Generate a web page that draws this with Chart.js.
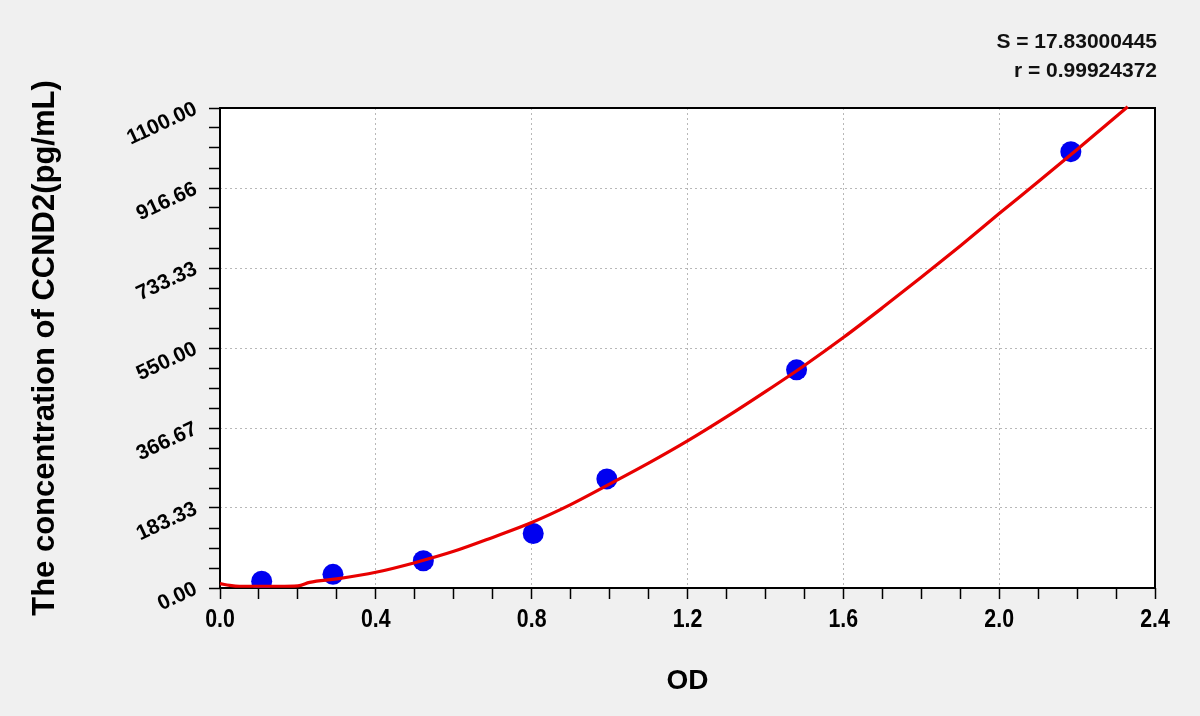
<!DOCTYPE html>
<html>
<head>
<meta charset="utf-8">
<script src="https://cdn.jsdelivr.net/npm/chart.js@4/dist/chart.umd.min.js"></script>
<style>
    html, body {
        margin: 0;
        padding: 0;
        background: #f0f0f0;
    }
    #wrap {
        position: relative;
        width: 1200px;
        height: 716px;
    }
    .stat {
        position: absolute;
        right: 43px;
        font-family: "Liberation Sans", Arial, sans-serif;
        font-weight: bold;
        font-size: 21px;
        color: #111;
        line-height: 1;
    }
</style>
</head>
<body>
<div id="wrap">
    <canvas id="graficoCurva"></canvas>
    <div class="stat" id="statS" style="top:30px"></div>
    <div class="stat" id="statR" style="top:59px"></div>
</div>
<script>

// standards (measured points)
const odPontos = [0.107, 0.290, 0.522, 0.804, 0.993, 1.480, 2.184];
const concPontos = [15.63, 31.25, 62.5, 125, 250, 500, 1000];

// fitted curve
const odCurva = [0, 0.025, 0.05, 0.1, 0.15, 0.2, 0.23, 0.3, 0.4, 0.5, 0.6, 0.7, 0.8, 0.9,
    1.0, 1.1, 1.2, 1.3, 1.4, 1.5, 1.6, 1.7, 1.8, 1.9, 2.0, 2.1, 2.2, 2.33];
const concCurva = [10, 6, 4, 4, 4, 5, 13, 21, 36, 58, 84, 116, 150, 191,
    238, 286, 337, 392, 450, 510, 574, 642, 712, 784, 858, 931, 1005, 1103];

const xTickLabels = ["0.0", "0.4", "0.8", "1.2", "1.6", "2.0", "2.4"];
const yTickLabels = ["0.00", "183.33", "366.67", "550.00", "733.33", "916.66", "1100.00"];

const textoS = "S = 17.83000445";
const textoR = "r = 0.99924372";

document.getElementById("statS").innerText = textoS;
document.getElementById("statR").innerText = textoR;

const xMax = 2.4;
const yMax = 1100;
const sub = 4; // minor divisions per major

function ticksComMenores(max, labels) {
    const n = (labels.length - 1) * sub;
    const lista = [];
    for (let i = 0; i <= n; i++) {
        lista.push({ value: i * max / n });
    }
    return lista;
}

const moldura = {
    id: "moldura",
    beforeDraw(chart) {
        const { ctx, chartArea: a } = chart;
        ctx.save();
        ctx.fillStyle = "#f0f0f0";
        ctx.fillRect(0, 0, chart.width, chart.height);
        ctx.fillStyle = "#ffffff";
        ctx.fillRect(a.left, a.top, a.right - a.left, a.bottom - a.top);
        ctx.restore();
    },
    beforeDatasetsDraw(chart) {
        const { ctx, chartArea: a } = chart;
        ctx.save();
        ctx.strokeStyle = "#000";
        ctx.lineWidth = 2;
        ctx.strokeRect(a.left, a.top, a.right - a.left, a.bottom - a.top);
        ctx.restore();
    },
    // x labels in a condensed bold face (no narrow font installed)
    afterDraw(chart) {
        const { ctx } = chart;
        const sx = chart.scales.x;
        ctx.save();
        ctx.fillStyle = "#000";
        ctx.font = "bold 26px 'Liberation Sans', Arial, sans-serif";
        ctx.textAlign = "center";
        ctx.textBaseline = "alphabetic";
        xTickLabels.forEach((txt, i) => {
            const px = sx.getPixelForValue(i * xMax / (xTickLabels.length - 1));
            ctx.save();
            ctx.translate(px, sx.top + 39);
            ctx.scale(0.82, 1);
            ctx.fillText(txt, 0, 0);
            ctx.restore();
        });
        ctx.restore();
    }
};

const canvas = document.getElementById("graficoCurva");
canvas.width = 1200;
canvas.height = 716;

new Chart(canvas.getContext("2d"), {

    type: "scatter",

    data: {
        datasets: [
            {
                type: "line",
                data: odCurva.map((x, i) => ({ x: x, y: concCurva[i] })),
                borderColor: "#e80000",
                borderWidth: 3.2,
                pointRadius: 0,
                fill: false,
                cubicInterpolationMode: "monotone",
                clip: 8,
                order: 0
            },
            {
                data: odPontos.map((x, i) => ({ x: x, y: concPontos[i] })),
                backgroundColor: "#0000f0",
                borderWidth: 0,
                pointRadius: 10.5,
                order: 1
            }
        ]
    },

    options: {
        responsive: false,
        animation: false,
        devicePixelRatio: 1,

        layout: {
            padding: { top: 108, right: 45, left: 0, bottom: 0 }
        },

        plugins: {
            legend: { display: false },
            tooltip: { enabled: false }
        },

        scales: {

            x: {
                type: "linear",
                min: 0,
                max: xMax,
                afterBuildTicks: s => { s.ticks = ticksComMenores(xMax, xTickLabels); },
                afterFit: s => {
                    s.height = 128;
                    s.paddingLeft = 0;
                    s.paddingRight = 0;
                },
                grid: {
                    color: c => c.index % sub === 0 ? "#b8b8b8" : "rgba(0,0,0,0)",
                    tickColor: "#000",
                    tickLength: 11,
                    tickWidth: 1.5,
                    lineWidth: 1
                },
                border: { display: false, dash: [2, 3] },
                ticks: {
                    display: false,
                    autoSkip: false
                },
                title: {
                    display: true,
                    text: "OD",
                    color: "#000",
                    font: { family: "'Liberation Sans', Arial, sans-serif", size: 28, weight: "bold" },
                    padding: { top: 0, bottom: 18 }
                }
            },

            y: {
                type: "linear",
                min: 0,
                max: yMax,
                afterBuildTicks: s => { s.ticks = ticksComMenores(yMax, yTickLabels); },
                afterFit: s => {
                    s.width = 220;
                    s.paddingTop = 0;
                    s.paddingBottom = 0;
                },
                grid: {
                    color: c => c.index % sub === 0 ? "#b8b8b8" : "rgba(0,0,0,0)",
                    tickColor: "#000",
                    tickLength: 11,
                    tickWidth: 1.5,
                    lineWidth: 1
                },
                border: { display: false, dash: [2, 3] },
                ticks: {
                    autoSkip: false,
                    minRotation: 25,
                    maxRotation: 25,
                    padding: 13,
                    color: "#000",
                    font: { family: "'Liberation Sans', Arial, sans-serif", size: 21, weight: "bold" },
                    callback: (v, i) => i % sub === 0 ? yTickLabels[i / sub] : ""
                },
                title: {
                    display: true,
                    text: "The concentration of CCND2(pg/mL)",
                    color: "#000",
                    font: { family: "'Liberation Sans', Arial, sans-serif", size: 31, weight: "bold" },
                    padding: { top: 27, bottom: 0 }
                }
            }
        }
    },

    plugins: [moldura]
});
</script>
</body>
</html>
